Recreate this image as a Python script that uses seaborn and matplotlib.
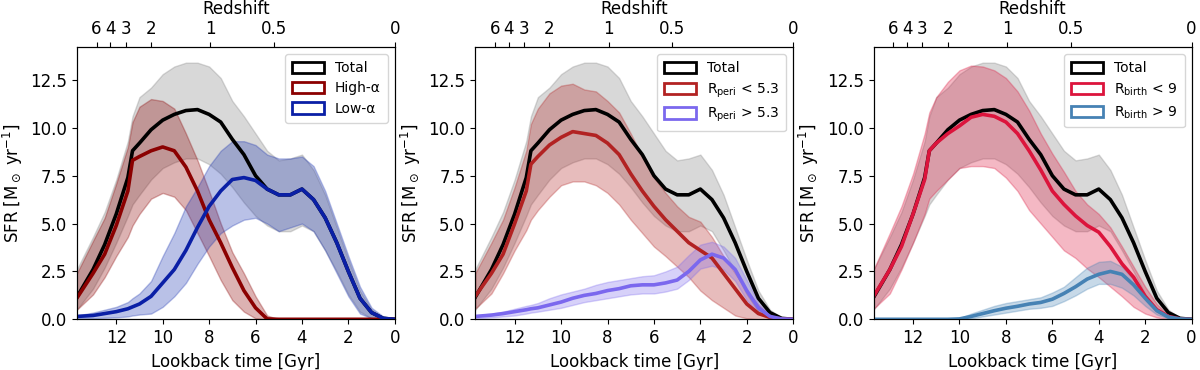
import numpy as np
import pandas as pd
import matplotlib
matplotlib.use("Agg")
import matplotlib.pyplot as plt
from matplotlib.patches import Patch
import seaborn as sns

# ---------------- data ----------------
lookback = [13.7, 13.0, 12.5, 12.0, 11.5, 11.3, 11.0, 10.5, 10.0, 9.5, 9.0, 8.5, 8.0, 7.5,
            7.0, 6.5, 6.0, 5.5, 5.0, 4.5, 4.0, 3.5, 3.0, 2.5, 2.0, 1.5, 1.0, 0.5, 0.0]

total_med = [1.15, 2.6, 3.9, 5.5, 7.4, 8.8, 9.2, 9.9, 10.4, 10.7, 10.9, 10.95, 10.7, 10.3,
             9.4, 8.6, 7.5, 6.8, 6.5, 6.5, 6.8, 6.25, 5.3, 4.0, 2.5, 1.1, 0.35, 0.05, 0.0]
total_hi = [2.6, 4.3, 5.6, 7.3, 9.3, 10.6, 11.6, 12.1, 12.8, 13.2, 13.4, 13.4, 13.2, 12.6,
            11.4, 10.6, 9.7, 8.8, 8.3, 8.4, 8.6, 7.8, 6.5, 4.8, 3.1, 1.5, 0.5, 0.08, 0.0]
total_lo = [0.5, 1.6, 2.7, 4.0, 5.4, 6.0, 6.5, 7.3, 7.9, 8.2, 8.4, 8.4, 8.1, 7.6,
            6.9, 6.1, 5.4, 4.9, 4.6, 4.6, 4.9, 4.6, 3.6, 2.5, 1.3, 0.4, 0.05, 0.0, 0.0]

high_alpha_med = [1.1, 2.4, 3.4, 4.9, 6.7, 8.3, 8.5, 8.8, 9.0, 8.8, 7.95, 6.7, 5.2, 4.0,
                  2.7, 1.5, 0.6, 0.02, 0, 0, 0, 0, 0, 0, 0, 0, 0, 0, 0]
high_alpha_hi = [2.4, 4.1, 5.3, 7.1, 9.0, 10.3, 11.1, 11.5, 11.4, 11.0, 9.7, 8.3, 6.7, 5.0,
                 3.5, 2.4, 1.2, 0.2, 0, 0, 0, 0, 0, 0, 0, 0, 0, 0, 0]
high_alpha_lo = [0.5, 1.3, 2.2, 3.3, 4.3, 4.9, 5.5, 6.3, 6.6, 6.4, 5.7, 4.5, 3.3, 2.05,
                 1.0, 0.4, 0.05, 0, 0, 0, 0, 0, 0, 0, 0, 0, 0, 0, 0]

low_alpha_med = [0.15, 0.2, 0.3, 0.4, 0.55, 0.65, 0.8, 1.2, 1.9, 2.6, 3.6, 4.8, 5.9, 6.7,
                 7.3, 7.4, 7.25, 6.8, 6.5, 6.5, 6.8, 6.25, 5.3, 4.0, 2.5, 1.1, 0.35, 0.05, 0.0]
low_alpha_hi = [0.2, 0.35, 0.5, 0.65, 0.9, 1.1, 1.35, 2.0, 3.3, 4.5, 5.9, 6.9, 8.0, 8.8,
                9.3, 9.3, 9.1, 8.6, 8.4, 8.4, 8.5, 8.0, 6.7, 5.0, 3.3, 1.7, 0.6, 0.15, 0.0]
low_alpha_lo = [0.05, 0.05, 0.08, 0.1, 0.15, 0.2, 0.25, 0.3, 0.65, 1.2, 1.9, 2.9, 3.8, 4.5,
                4.9, 5.2, 5.3, 5.0, 4.6, 4.8, 5.0, 4.6, 3.6, 2.4, 1.2, 0.3, 0.05, 0.0, 0.0]

peri_in_med = [1.2, 2.4, 3.4, 5.0, 6.7, 8.1, 8.5, 9.1, 9.5, 9.8, 9.7, 9.6, 9.2, 8.6,
               7.6, 6.7, 5.9, 5.2, 4.6, 4.0, 3.6, 3.2, 2.4, 1.6, 0.8, 0.3, 0.1, 0.02, 0.0]
peri_in_hi = [2.4, 4.0, 5.2, 6.9, 8.8, 10.2, 11.0, 11.8, 12.2, 12.3, 12.0, 11.9, 11.4, 10.8,
              9.7, 8.5, 7.4, 6.6, 5.9, 5.35, 5.1, 4.3, 3.3, 2.4, 1.5, 0.75, 0.2, 0.03, 0.0]
peri_in_lo = [0.55, 1.35, 2.4, 3.6, 4.65, 5.2, 5.7, 6.4, 7.0, 7.2, 7.2, 7.0, 6.6, 6.0,
              5.2, 4.5, 3.8, 3.3, 2.75, 2.2, 1.5, 1.0, 0.6, 0.2, 0.05, 0, 0, 0, 0]

peri_out_med = [0.15, 0.22, 0.3, 0.4, 0.5, 0.55, 0.6, 0.75, 0.9, 1.1, 1.25, 1.35, 1.5, 1.6,
                1.75, 1.8, 1.8, 1.9, 2.05, 2.5, 3.1, 3.4, 3.2, 2.6, 1.5, 0.6, 0.15, 0.02, 0.0]
peri_out_hi = [0.2, 0.3, 0.4, 0.55, 0.7, 0.75, 0.85, 1.1, 1.3, 1.45, 1.6, 1.8, 1.95, 2.05,
               2.15, 2.25, 2.3, 2.5, 2.75, 3.35, 3.9, 4.05, 3.8, 3.2, 2.05, 0.85, 0.2, 0.03, 0.0]
peri_out_lo = [0.05, 0.1, 0.15, 0.2, 0.3, 0.35, 0.4, 0.5, 0.6, 0.75, 0.9, 1.0, 1.1, 1.2,
               1.3, 1.35, 1.35, 1.45, 1.6, 2.05, 2.65, 2.8, 2.6, 2.0, 1.0, 0.3, 0.05, 0, 0]

birth_in_med = [1.2, 2.6, 3.8, 5.5, 7.3, 8.8, 9.2, 9.7, 10.1, 10.55, 10.7, 10.6, 10.3, 9.7,
                8.8, 7.8, 6.7, 6.0, 5.4, 4.9, 4.55, 3.8, 2.9, 2.2, 1.2, 0.5, 0.15, 0.02, 0.0]
birth_in_hi = [2.6, 4.5, 5.9, 7.6, 9.7, 10.8, 11.6, 12.4, 13.0, 13.25, 13.2, 13.0, 12.6, 11.9,
               10.9, 9.7, 8.65, 7.7, 6.7, 6.0, 5.5, 4.8, 3.8, 2.75, 1.7, 0.8, 0.2, 0.03, 0.0]
birth_in_lo = [0.55, 1.35, 2.6, 4.0, 5.5, 6.3, 6.7, 7.3, 7.9, 8.0, 8.0, 7.9, 7.4, 6.7,
               5.7, 5.0, 4.3, 3.6, 3.2, 2.65, 2.2, 1.7, 1.2, 0.65, 0.3, 0.1, 0, 0, 0]

birth_out_med = [0, 0, 0, 0, 0, 0, 0, 0, 0.02, 0.15, 0.3, 0.45, 0.58, 0.68,
                 0.8, 0.88, 1.05, 1.35, 1.7, 2.1, 2.35, 2.5, 2.35, 1.8, 1.1, 0.45, 0.12, 0.02, 0.0]
birth_out_hi = [0, 0, 0, 0, 0, 0, 0, 0, 0.05, 0.3, 0.5, 0.7, 0.85, 0.95,
                1.05, 1.15, 1.4, 1.7, 2.2, 2.7, 3.0, 3.05, 2.75, 2.1, 1.3, 0.55, 0.15, 0.02, 0.0]
birth_out_lo = [0, 0, 0, 0, 0, 0, 0, 0, 0.0, 0.05, 0.15, 0.25, 0.35, 0.45,
                0.55, 0.6, 0.7, 0.95, 1.25, 1.6, 1.85, 1.85, 1.65, 1.25, 0.7, 0.25, 0.05, 0, 0]

redshift_labels = ["6", "4", "3", "2", "1", "0.5", "0"]
redshift_lookback = [12.85, 12.25, 11.6, 10.5, 7.95, 5.2, 0.0]

yticks = [0.0, 2.5, 5.0, 7.5, 10.0, 12.5]

# ---------------- style ----------------
plt.rcParams.update({
    "font.size": 12,
    "font.family": ["DejaVu Sans"],
    "mathtext.fontset": "dejavusans",
})

panels = [
    [("Total", "black", "grey", total_med, total_lo, total_hi),
     ("High-α", "#8b0000", "#8b0000", high_alpha_med, high_alpha_lo, high_alpha_hi),
     ("Low-α", "#0a1fa6", "#1a33b0", low_alpha_med, low_alpha_lo, low_alpha_hi)],
    [("Total", "black", "grey", total_med, total_lo, total_hi),
     (r"R$_{\rm peri}$ < 5.3", "#b22222", "#b22222", peri_in_med, peri_in_lo, peri_in_hi),
     (r"R$_{\rm peri}$ > 5.3", "#7b68ee", "#7b68ee", peri_out_med, peri_out_lo, peri_out_hi)],
    [("Total", "black", "grey", total_med, total_lo, total_hi),
     (r"R$_{\rm birth}$ < 9", "#dc143c", "#dc143c", birth_in_med, birth_in_lo, birth_in_hi),
     (r"R$_{\rm birth}$ > 9", "#4682b4", "#4682b4", birth_out_med, birth_out_lo, birth_out_hi)],
]

fig = plt.figure(figsize=(12, 3.7), dpi=100)
lefts = [0.064, 0.396, 0.728]
width = 0.265
bottom, top = 0.137, 0.872

for left, series in zip(lefts, panels):
    ax = fig.add_axes([left, bottom, width, top - bottom])
    # bands first
    for name, lc, fc, med, lo, hi in series:
        ax.fill_between(lookback, lo, hi, color=fc, alpha=0.3, linewidth=1, zorder=1)
    # median lines
    for name, lc, fc, med, lo, hi in series:
        df = pd.DataFrame({"t": lookback, "sfr": med})
        sns.lineplot(data=df, x="t", y="sfr", color=lc, lw=2.6, ax=ax,
                     legend=False, zorder=3, estimator=None, sort=False)
    ax.set_xlim(13.7, 0)
    ax.set_ylim(0, 14.2)
    ax.set_yticks(yticks)
    ax.set_yticklabels([f"{v:.1f}" for v in yticks])
    ax.set_xticks([12, 10, 8, 6, 4, 2, 0])
    ax.set_xlabel("Lookback time [Gyr]", fontsize=12)
    ax.set_ylabel(r"SFR [M$_\odot$ yr$^{-1}$]", fontsize=12)
    ax.tick_params(labelsize=12)

    handles = [Patch(facecolor="white", edgecolor=lc, linewidth=2) for _, lc, *_ in series]
    labels = [s[0] for s in series]
    ax.legend(handles, labels, loc="upper right", fontsize=10, handlelength=2.3,
              handleheight=0.9, borderpad=0.5, labelspacing=0.45)

    ax2 = ax.twiny()
    ax2.set_xlim(ax.get_xlim())
    ax2.set_xticks(redshift_lookback)
    ax2.set_xticklabels(redshift_labels)
    ax2.tick_params(labelsize=12)
    ax2.set_xlabel("Redshift", fontsize=12, labelpad=4)

fig.savefig("out.png", dpi=100)
